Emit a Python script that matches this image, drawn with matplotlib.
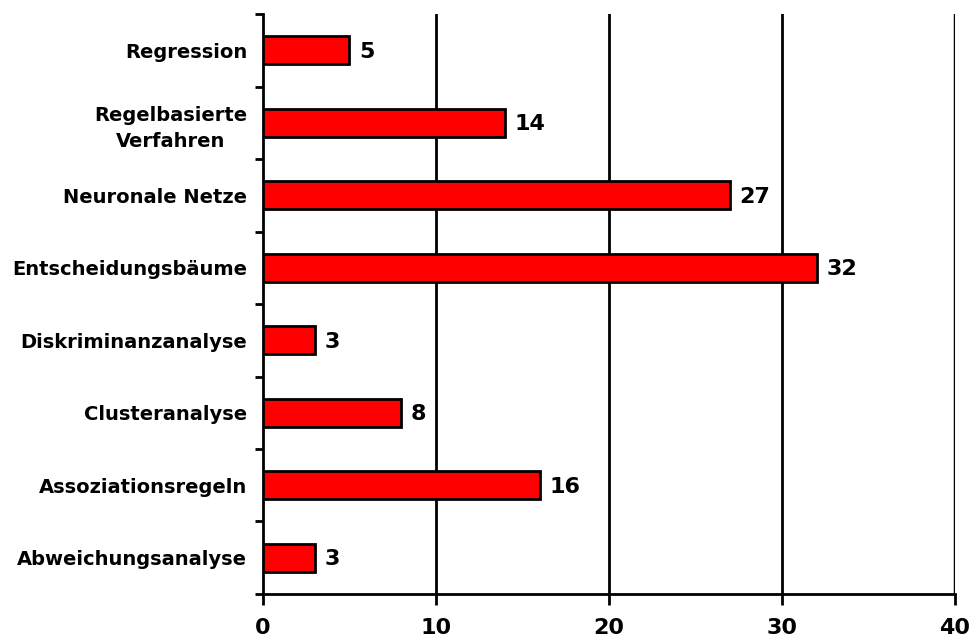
import matplotlib
matplotlib.use("Agg")
import matplotlib.pyplot as plt
import numpy as np

plt.rcParams["font.family"] = ["DejaVu Sans"]

categories = ["Regression", "Regelbasierte\nVerfahren", "Neuronale Netze", "Entscheidungsbäume",
              "Diskriminanzanalyse", "Clusteranalyse", "Assoziationsregeln", "Abweichungsanalyse"]
values = [5, 14, 27, 32, 3, 8, 16, 3]
xticks = [0, 10, 20, 30, 40]

fig = plt.figure(figsize=(9.74, 6.4), dpi=100)
ax = fig.add_axes([0.270, 0.0719, 0.7105, 0.9061])

n = len(categories)
ypos = np.arange(n)
ax.barh(ypos, values, height=0.39, color="#ff0000", edgecolor="black", linewidth=2, zorder=3)
for y, v in zip(ypos, values):
    ax.text(v + 0.55, y + 0.02, str(v), va="center", ha="left", fontsize=16, fontweight="bold", zorder=4)

ax.set_ylim(n - 0.5, -0.5)
ax.set_xlim(0, 40)
ax.set_yticks(ypos)
labels = ax.set_yticklabels(categories, fontsize=14, fontweight="bold", linespacing=1.45)
for lab in labels:
    lab.set_multialignment("center")
ax.set_yticks(np.arange(-0.5, n, 1.0), minor=True)
ax.tick_params(axis="y", which="major", length=0, pad=11.5)
ax.tick_params(axis="y", which="minor", length=6, width=2, direction="out")
ax.set_xticks(xticks)
ax.set_xticklabels([str(t) for t in xticks], fontsize=16, fontweight="bold")
ax.tick_params(axis="x", length=8, width=2, direction="out", pad=9)

for t in xticks[1:]:
    ax.axvline(t, color="black", linewidth=2 if t < 40 else 2.5, zorder=1)

for s in ["top", "right"]:
    ax.spines[s].set_visible(False)
ax.spines["left"].set_linewidth(2)
ax.spines["bottom"].set_linewidth(2)

fig.savefig("out.png", dpi=100, facecolor="white")
